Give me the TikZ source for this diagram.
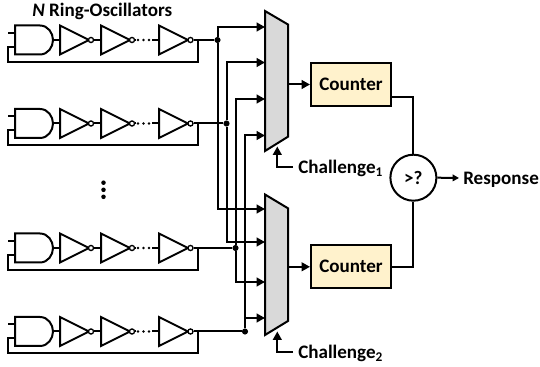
\documentclass[tikz,border=0pt]{standalone}
\usepackage{fontspec}
\setmainfont{Carlito}
\usetikzlibrary{arrows.meta}
\definecolor{cntfill}{HTML}{FFF2CC}
\definecolor{muxfill}{HTML}{D9D9D9}
\tikzset{
  wire/.style={line width=1.5pt,line join=miter},
  sig/.style={wire,-{Triangle[length=6.2pt,width=6.4pt]}},
  sigsmall/.style={wire,-{Triangle[length=4.8pt,width=5pt]}},
  gate/.style={line width=1.5pt,line join=miter},
  bubble/.style={circle,draw,line width=1pt,fill=white,minimum size=3.8pt,inner sep=0pt},
  junction/.style={circle,fill=black,minimum size=4.6pt,inner sep=0pt},
  dotmark/.style={circle,fill=black,minimum size=1.9pt,inner sep=0pt},
  counterbox/.style={draw,line width=1.5pt,fill=cntfill,minimum width=60pt,minimum height=32.2pt,inner sep=0pt,font=\fontsize{14.3}{16}\bfseries},
  cmp/.style={circle,draw,line width=1.5pt,fill=white,minimum size=34.5pt,inner sep=0pt,font=\fontsize{14.3}{16}\bfseries},
  lab/.style={font=\fontsize{14.3}{16}\bfseries,inner sep=0pt}
}
\begin{document}
\begin{tikzpicture}[x=0.75pt,y=-0.75pt]
\useasboundingbox (0,0) rectangle (540,367);
% ring oscillators
\foreach \i/\yc in {1/40,2/123.5,3/248,4/331.5}{
  \begin{scope}[yshift=-0.75*\yc pt]
    \coordinate (in\i) at (15,-7);
    \coordinate (fb\i) at (15,7);
    \coordinate (g\i) at (53,0);
    \draw[gate] (15,-14.5) -- (40,-14.5) .. controls (48,-14.5) and (53,-7) .. (g\i)
                .. controls (53,7) and (48,14.5) .. (40,14.5) -- (15,14.5) -- cycle;
    \draw[wire] (8,-7) -- (in\i);
    \coordinate (a\i) at (60,0);
    \draw[gate] (60,-14.5) -- (89,0) -- (60,14.5) -- cycle;
    \node[bubble] (p\i) at (91,0) {};
    \coordinate (b\i) at (101,0);
    \draw[gate] (101,-14.5) -- (130,0) -- (101,14.5) -- cycle;
    \node[bubble] (q\i) at (132,0) {};
    \node[dotmark] (d\i a) at (138,0) {};
    \node[dotmark] (d\i b) at (143.5,0) {};
    \node[dotmark] (d\i c) at (149,0) {};
    \coordinate (st\i) at (152,0);
    \coordinate (c\i) at (159,0);
    \draw[gate] (159,-14.5) -- (188,0) -- (159,14.5) -- cycle;
    \node[bubble] (r\i) at (190.5,0) {};
    \coordinate (t\i) at (198,0);
    \coordinate (lp\i) at (198,22);
    \coordinate (lq\i) at (8,22);
    \coordinate (lr\i) at (8,7);
    \draw[wire] (g\i) -- (a\i);
    \draw[wire] (p\i) -- (b\i);
    \draw[wire] (q\i) -- (135,0);
    \draw[wire] (st\i) -- (c\i);
    \draw[wire] (t\i) -- (lp\i) -- (lq\i) -- (lr\i) -- (fb\i);
  \end{scope}
}
% junctions
\node[junction] (j1) at (217.5,40) {};
\node[junction] (j2) at (226.5,123.5) {};
\node[junction] (j3) at (235.5,248) {};
\node[junction] (j4) at (245,331.5) {};
\draw[wire] (r1) -- (j1);
\draw[wire] (r2) -- (j2);
\draw[wire] (r3) -- (j3);
\draw[wire] (r4) -- (j4);
% multiplexers
\draw[wire,fill=muxfill] (265,11) coordinate (m1a) -- (288,24.5) -- (288,136.7) -- (265,151) -- cycle;
\draw[wire,fill=muxfill] (265,194.5) coordinate (m2a) -- (288,208.3) -- (288,321) -- (265,335) -- cycle;
\coordinate (m1i1) at (265,27);
\coordinate (m1i2) at (265,62.5);
\coordinate (m1i3) at (265,99);
\coordinate (m1i4) at (265,135.5);
\coordinate (m2i1) at (265,209);
\coordinate (m2i2) at (265,242);
\coordinate (m2i3) at (265,282);
\coordinate (m2i4) at (265,318);
\coordinate (m1o) at (288,84.5);
\coordinate (m2o) at (288,266.8);
% buses
\draw[sig] (j1) |- (m1i1);
\draw[sig] (j2) |- (m1i2);
\draw[sig] (j3) |- (m1i3);
\draw[sig] (j4) |- (m1i4);
\draw[sig] (j1) |- (m2i1);
\draw[sig] (j2) |- (m2i2);
\draw[sig] (j3) |- (m2i3);
\draw[sig] (j4) |- (m2i4);
% counters
\node[counterbox] (cnt1) at (351,84.5) {\raisebox{-1pt}{Counter}};
\node[counterbox] (cnt2) at (351,266.8) {\raisebox{-1pt}{Counter}};
\draw[sig] (m1o) -- (cnt1.west);
\draw[sig] (m2o) -- (cnt2.west);
% comparator
\node[cmp] (cmp) at (413.4,177.7) {\raisebox{-1pt}{>?}};
\draw[wire] (391,96.8) coordinate (c1o) -| (cmp.north);
\draw[wire] (391,267) coordinate (c2o) -| (cmp.south);
\node[lab,anchor=west] (resp) at (463,179.5) {Response};
\coordinate (respin) at (459,178);
\draw[sigsmall] (cmp.east) -- (respin);
% challenges
\node[lab,anchor=west] (ch1) at (298,168.5) {Challenge\textsubscript{1}};
\node[lab,anchor=west] (ch2) at (298,353.5) {Challenge\textsubscript{2}};
\coordinate (ct1) at (277.3,146.5);
\coordinate (ct2) at (277.3,331.5);
\draw[sig] (293,166.8) coordinate (cs1) -| (ct1);
\draw[sig] (293,351.8) coordinate (cs2) -| (ct2);
% vertical ellipsis
\node[circle,fill=black,minimum size=3.4pt,inner sep=0pt] (e1) at (103.5,182.7) {};
\node[circle,fill=black,minimum size=3.4pt,inner sep=0pt] (e2) at (103.5,189.8) {};
\node[circle,fill=black,minimum size=3.4pt,inner sep=0pt] (e3) at (103.5,196.8) {};
% title
\node[lab,anchor=west] (title) at (32,11) {\textit{N} Ring-Oscillators};
\end{tikzpicture}
\end{document}
